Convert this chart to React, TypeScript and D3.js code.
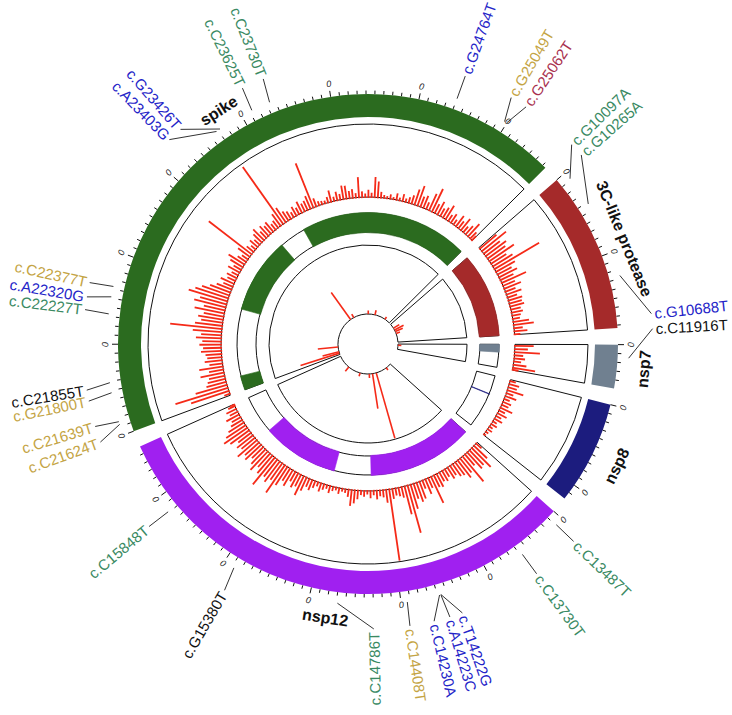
import React from "react";
import * as d3 from "d3";

// genes on the circle (genome coordinates)
const geneNames = ["3C-like protease", "nsp7", "nsp8", "nsp12", "spike"];
const geneStart = [10055, 11843, 12092, 13442, 21563];
const geneEnd = [10972, 12091, 12685, 16236, 25384];
const geneColors = ["#a52a2a", "#708090", "#1c1c7e", "#a020f0", "#2b6b1f"];

// histogram track, one value per 30 nt bin
const binSize = 30;
const hist3CL = [30, 43, 28, 35, 30, 41, 25, 32, 72, 30, 22, 28, 20, 37, 18, 25, 15, 22, 14, 20, 18, 20, 14, 16, 12, 10, 22, 28, 12, 18, 8];
const histNsp7 = [26, 18, 35, 12, 15, 10, 18, 31, 8];
const histNsp8 = [8, 14, 12, 23, 10, 16, 8, 12, 10, 18, 9, 14, 8, 12, 6, 9, 5, 7, 4, 3];
const histNsp12 = [
  10, 25, 37, 28, 30, 20, 45, 25, 30, 22,
  20, 15, 18, 12, 16, 14, 20, 18, 40, 15,
  22, 12, 25, 28, 22, 35, 68, 40, 15, 12,
  10, 14, 100, 18, 10, 8, 12, 6, 10, 5,
  8, 6, 12, 18, 22, 10, 5, 4, 8, 4,
  6, 10, 5, 8, 12, 6, 10, 15, 12, 20,
  29, 18, 22, 15, 25, 20, 30, 46, 28, 35,
  30, 48, 32, 25, 35, 28, 22, 30, 26, 35,
  24, 28, 22, 32, 39, 32, 25, 18, 14, 20,
  12, 15, 10, 6,
];
const histSpike = [
  8, 55, 76, 45, 28, 25, 22, 33, 20, 33,
  18, 24, 20, 22, 28, 25, 30, 26, 35, 28,
  40, 72, 38, 30, 35, 28, 42, 30, 45, 38,
  56, 48, 40, 30, 22, 14, 20, 12, 15, 10,
  18, 12, 20, 26, 14, 10, 20, 75, 12, 8,
  14, 10, 16, 21, 12, 18, 14, 17, 10, 12,
  20, 97, 24, 15, 12, 8, 14, 10, 17, 12,
  14, 19, 66, 12, 6, 5, 4, 8, 16, 6,
  12, 8, 19, 18, 10, 12, 6, 28, 8, 5,
  10, 6, 28, 22, 8, 4, 3, 6, 3, 9,
  4, 10, 5, 8, 12, 22, 29, 15, 18, 10,
  25, 35, 14, 20, 12, 16, 22, 10, 14, 8,
  18, 12, 20, 10, 15, 23, 12, 8,
];
const hists = [hist3CL, histNsp7, histNsp8, histNsp12, histSpike];

// middle track: covered regions
const covGene = [0, 1, 2, 3, 3, 4, 4, 4];
const covStart = [10055, 11843, 12294, 13442, 14987, 21563, 22443, 23553];
const covEnd = [10972, 11927, 12300, 14587, 15820, 21718, 23266, 25384];

// inner track
const innerGene = [4, 4, 4, 4, 4, 4, 4, 4, 0, 0, 0, 0, 1, 3, 3, 3, 3, 3, 3];
const innerPos = [21630, 21700, 21925, 23403, 23576, 24285, 24604, 25120, 10280, 10380, 10460, 10560, 11900, 13700, 14230, 14408, 14560, 15000, 15597];
const innerVal = [60, 25, 30, 49, 6, 5, 7, 4, 10, 15, 12, 6, 5, 4, 100, 52, 6, 5, 8];

// labelled mutations
const mutName = [
  "c.G10097A", "c.G10265A", "c.G10688T", "c.C11916T",
  "c.C13487T", "c.C13730T", "c.T14222G", "c.A14223C", "c.C14230A", "c.C14408T", "c.C14786T", "c.G15380T", "c.C15848T",
  "c.C21624T", "c.C21639T", "c.G21800T", "c.C21855T", "c.C22227T", "c.A22320G", "c.C22377T",
  "c.A23403G", "c.G23426T", "c.C23625T", "c.C23730T", "c.G24764T", "c.G25049T", "c.G25062T",
];
const mutGene = [0, 0, 0, 1, 3, 3, 3, 3, 3, 3, 3, 3, 3, 4, 4, 4, 4, 4, 4, 4, 4, 4, 4, 4, 4, 4, 4];
const mutClass = [1, 1, 0, 3, 1, 1, 0, 0, 0, 2, 1, 3, 1, 2, 2, 2, 3, 1, 0, 2, 0, 0, 1, 1, 0, 2, 4];
const classColors = ["#2424c8", "#3a8a63", "#c4a444", "#111111", "#a8304e"];
// label spreading (degrees moved from the mutation position)
const labelShift = [-5.1, -9.1, 9.1, -6.2, 0, 0, -3.1, -0.5, 2.5, 0.2, -7.9, -0.7, 0.2, -2.2, 0.5, -0.8, -0.8, 0.3, -0.9, -0.3, -8.7, -6.6, 0.3, 0.6, 0, -1.4, 1.6];

const W = 732;
const H = 715;
const cx = 368;
const cy = 344;
const FONT = "'Liberation Sans', Arial, sans-serif";

export default function App() {
  const gap = 3.8;
  const startDeg = 49;
  const lens = geneStart.map((s, i) => geneEnd[i] - s);
  const k = (360 - gap * lens.length) / d3.sum(lens);
  const a0 = lens.map((_, i) => startDeg + d3.sum(lens.slice(0, i)) * k + gap * i);
  const ang = lens.map((l, i) =>
    d3.scaleLinear().domain([geneStart[i], geneEnd[i]]).range([a0[i], a0[i] + l * k])
  );
  const rad = (d: number) => (d * Math.PI) / 180;
  const arc = d3.arc<any>();
  const seg = (g: number, p0: number, p1: number, r0: number, r1: number) =>
    arc({ innerRadius: r0, outerRadius: r1, startAngle: rad(ang[g](p0)), endAngle: rad(ang[g](p1)) }) || "";
  const pt = (deg: number, r: number) => d3.pointRadial(rad(deg), r);
  const norm = (d: number) => ((d % 360) + 360) % 360;

  const histR = d3.scaleLinear().domain([0, 100]).range([147, 219]);
  const innerR = d3.scaleLinear().domain([0, 100]).range([30, 98]);

  const ticks: any[] = [];
  geneStart.forEach((s, g) => {
    for (let p = 0; p <= lens[g]; p += 50) {
      const major = p % 500 === 0;
      const a = ang[g](s + p);
      const [x0, y0] = pt(a, 250);
      const [x1, y1] = pt(a, major ? 256 : 253.5);
      ticks.push(<line key={`t${g}-${p}`} x1={x0} y1={y0} x2={x1} y2={y1} stroke="#111" strokeWidth={1} />);
      if (major) {
        const [tx, ty] = pt(a, 263);
        const n = norm(a);
        const rot = n > 90 && n < 270 ? n + 180 : n;
        ticks.push(
          <text key={`tl${g}-${p}`} transform={`translate(${tx},${ty}) rotate(${rot})`} textAnchor="middle"
            dominantBaseline="central" fontSize={9} fontStyle="italic" fill="#222" fontFamily={FONT}>0</text>
        );
      }
    }
  });

  const innerGenes = Array.from(new Set(innerGene));

  return (
    <svg width={W} height={H} style={{ position: "absolute", left: 0, top: 0, background: "#fff" }}>
      <g transform={`translate(${cx},${cy})`}>
        {/* outer ideogram band */}
        {geneStart.map((s, g) => (
          <path key={`band${g}`} d={seg(g, s, geneEnd[g], 227, 250)} fill={geneColors[g]} />
        ))}
        {ticks}

        {/* histogram track */}
        {geneStart.map((s, g) => (
          <path key={`hb${g}`} d={seg(g, s, geneEnd[g], 147, 220)} fill="none" stroke="#111" strokeWidth={1} />
        ))}
        {hists.map((h, g) =>
          h.map((v, i) => {
            const p = Math.min(geneStart[g] + binSize * (i + 0.5), geneEnd[g] - 4);
            const a = ang[g](p);
            const [x0, y0] = pt(a, 146);
            const [x1, y1] = pt(a, histR(v));
            return <line key={`h${g}-${i}`} x1={x0} y1={y0} x2={x1} y2={y1} stroke="#f52a18" strokeWidth={1.8} />;
          })
        )}

        {/* middle coverage track */}
        {geneStart.map((s, g) => (
          <path key={`mb${g}`} d={seg(g, s, geneEnd[g], 112, 131)} fill="#fff" stroke="#111" strokeWidth={1} />
        ))}
        {covGene.map((g, i) => (
          <path key={`cov${i}`} d={seg(g, covStart[i], covEnd[i], 111.5, 131.5)} fill={geneColors[g]}
            stroke={geneColors[g]} strokeWidth={0.6} />
        ))}

        {/* inner track */}
        {innerGenes.map((g) => (
          <path key={`ib${g}`} d={seg(g, geneStart[g], geneEnd[g], 30, 99)} fill="none" stroke="#111" strokeWidth={1} />
        ))}
        {innerGene.map((g, i) => {
          const a = ang[g](innerPos[i]);
          const [x0, y0] = pt(a, 30);
          const [x1, y1] = pt(a, innerR(innerVal[i]));
          return <line key={`in${i}`} x1={x0} y1={y0} x2={x1} y2={y1} stroke="#f52a18" strokeWidth={1.6} />;
        })}

        {/* gene names */}
        {geneNames.map((name, g) => {
          const a = norm((a0[g] + a0[g] + lens[g] * k) / 2);
          const [x, y] = pt(a, 277);
          const rot = a > 90 && a < 270 ? a + 180 : a;
          return (
            <text key={`gn${g}`} transform={`translate(${x},${y}) rotate(${rot})`} textAnchor="middle"
              dominantBaseline="central" fontSize={16} fontWeight="bold" fill="#111" fontFamily={FONT}>
              {name}
            </text>
          );
        })}

        {/* mutation labels */}
        {mutName.map((name, i) => {
          const g = mutGene[i];
          const am = ang[g](+name.slice(3, -1));
          const al = norm(am + labelShift[i]);
          const flip = al > 178;
          const [x0, y0] = pt(am, 261);
          const [x1, y1] = pt(al, 285);
          const [tx, ty] = pt(al, 288);
          const rot = flip ? al + 90 : al - 90;
          return (
            <g key={`m${i}`}>
              <line x1={x0} y1={y0} x2={x1} y2={y1} stroke="#333" strokeWidth={1} />
              <text transform={`translate(${tx},${ty}) rotate(${rot})`} textAnchor={flip ? "end" : "start"}
                dominantBaseline="central" fontSize={15} fill={classColors[mutClass[i]]} fontFamily={FONT}>
                {name}
              </text>
            </g>
          );
        })}
      </g>
    </svg>
  );
}
